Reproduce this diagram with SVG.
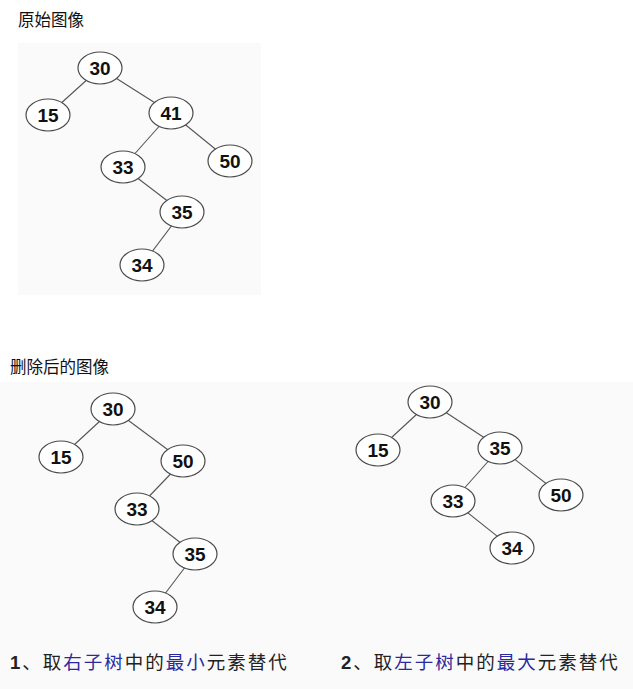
<svg xmlns="http://www.w3.org/2000/svg" width="633" height="689" viewBox="0 0 633 689">
<style>
.bg{fill:#fafafa}
.e{fill:#ffffff;stroke:#4a4a4a;stroke-width:1.2}
.n{font-family:"Liberation Sans",Arial,sans-serif;font-weight:bold;font-size:19px;fill:#111;text-anchor:middle;dominant-baseline:central}
.c line{stroke:#555;stroke-width:1.1}
.h{font-family:"Noto Sans CJK SC","Noto Sans",sans-serif;font-size:16.5px;fill:#111}
.cap{font-family:"Liberation Sans","Noto Sans CJK SC",sans-serif;font-size:18.5px;fill:#222;letter-spacing:2px}
.num{font-weight:bold}
.b{fill:#2a2aa0}
</style>
<rect width="633" height="689" fill="#ffffff"/>
<rect class="bg" x="18" y="43" width="243" height="252"/>
<rect class="bg" x="0" y="382" width="633" height="307"/>
<text class="h" x="18" y="26">原始图像</text>
<text class="h" x="10" y="373">删除后的图像</text>

<g id="connectors" class="c">
<line x1="100" y1="68" x2="48" y2="115"/>
<line x1="100" y1="68" x2="171" y2="113"/>
<line x1="171" y1="113" x2="123" y2="167"/>
<line x1="171" y1="113" x2="230" y2="161"/>
<line x1="123" y1="167" x2="182" y2="212"/>
<line x1="182" y1="212" x2="142" y2="265"/>

<line x1="113" y1="409" x2="61" y2="457"/>
<line x1="113" y1="409" x2="183" y2="461"/>
<line x1="183" y1="461" x2="137" y2="509"/>
<line x1="137" y1="509" x2="195" y2="554"/>
<line x1="195" y1="554" x2="155" y2="607"/>

<line x1="430" y1="402" x2="378" y2="450"/>
<line x1="430" y1="402" x2="500" y2="448"/>
<line x1="500" y1="448" x2="453" y2="501"/>
<line x1="500" y1="448" x2="561" y2="495"/>
<line x1="453" y1="501" x2="512" y2="548"/>
</g>

<g id="t1-30"><ellipse class="e" cx="100" cy="68" rx="22" ry="16"/><text class="n" x="100" y="68">30</text></g>
<g id="t1-15"><ellipse class="e" cx="48" cy="115" rx="22" ry="16"/><text class="n" x="48" y="115">15</text></g>
<g id="t1-41"><ellipse class="e" cx="171" cy="113" rx="22" ry="16"/><text class="n" x="171" y="113">41</text></g>
<g id="t1-50"><ellipse class="e" cx="230" cy="161" rx="22" ry="16"/><text class="n" x="230" y="161">50</text></g>
<g id="t1-33"><ellipse class="e" cx="123" cy="167" rx="22" ry="16"/><text class="n" x="123" y="167">33</text></g>
<g id="t1-35"><ellipse class="e" cx="182" cy="212" rx="22" ry="16"/><text class="n" x="182" y="212">35</text></g>
<g id="t1-34"><ellipse class="e" cx="142" cy="265" rx="22" ry="16"/><text class="n" x="142" y="265">34</text></g>

<g id="t2-30"><ellipse class="e" cx="113" cy="409" rx="22" ry="16"/><text class="n" x="113" y="409">30</text></g>
<g id="t2-15"><ellipse class="e" cx="61" cy="457" rx="22" ry="16"/><text class="n" x="61" y="457">15</text></g>
<g id="t2-50"><ellipse class="e" cx="183" cy="461" rx="22" ry="16"/><text class="n" x="183" y="461">50</text></g>
<g id="t2-33"><ellipse class="e" cx="137" cy="509" rx="22" ry="16"/><text class="n" x="137" y="509">33</text></g>
<g id="t2-35"><ellipse class="e" cx="195" cy="554" rx="22" ry="16"/><text class="n" x="195" y="554">35</text></g>
<g id="t2-34"><ellipse class="e" cx="155" cy="607" rx="22" ry="16"/><text class="n" x="155" y="607">34</text></g>

<g id="t3-30"><ellipse class="e" cx="430" cy="402" rx="22" ry="16"/><text class="n" x="430" y="402">30</text></g>
<g id="t3-15"><ellipse class="e" cx="378" cy="450" rx="22" ry="16"/><text class="n" x="378" y="450">15</text></g>
<g id="t3-35"><ellipse class="e" cx="500" cy="448" rx="22" ry="16"/><text class="n" x="500" y="448">35</text></g>
<g id="t3-50"><ellipse class="e" cx="561" cy="495" rx="22" ry="16"/><text class="n" x="561" y="495">50</text></g>
<g id="t3-33"><ellipse class="e" cx="453" cy="501" rx="22" ry="16"/><text class="n" x="453" y="501">33</text></g>
<g id="t3-34"><ellipse class="e" cx="512" cy="548" rx="22" ry="16"/><text class="n" x="512" y="548">34</text></g>

<text class="cap" x="10" y="669"><tspan class="num">1</tspan>、取<tspan class="b">右子树</tspan>中的<tspan class="b">最小</tspan>元素替代</text>
<text class="cap" x="341" y="669"><tspan class="num">2</tspan>、取<tspan class="b">左子树</tspan>中的<tspan class="b">最大</tspan>元素替代</text>
</svg>
